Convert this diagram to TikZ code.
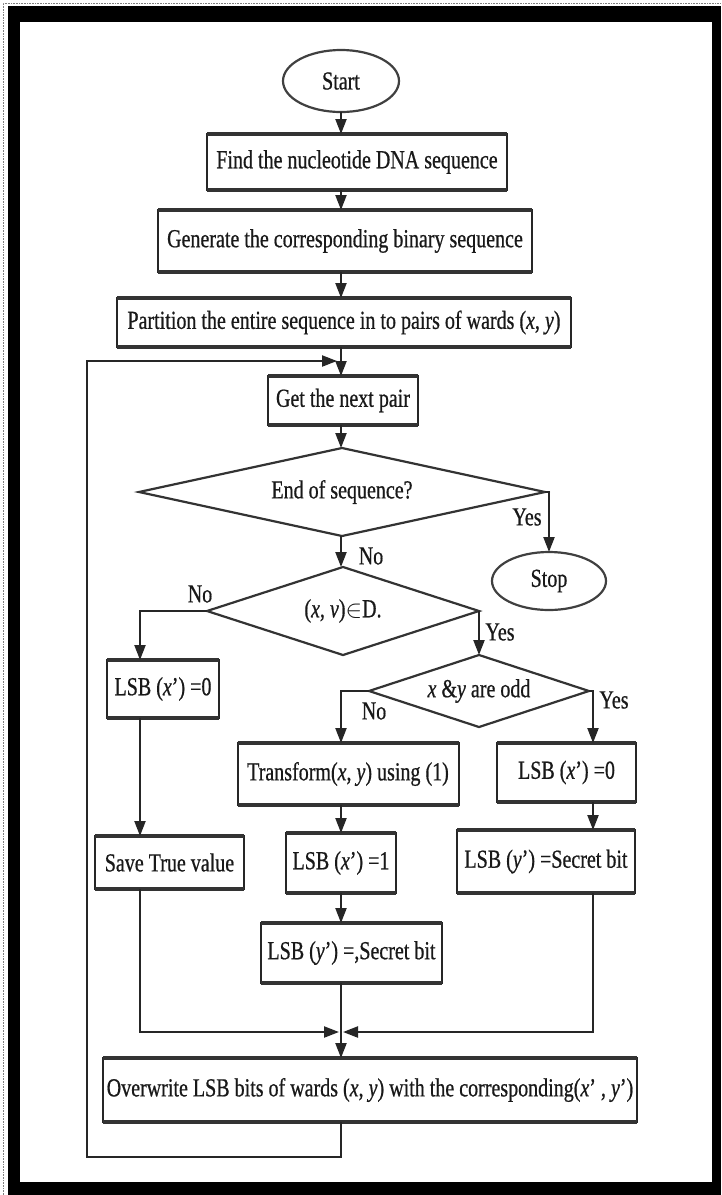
\documentclass[tikz,border=0pt]{standalone}
\usepackage{fontspec}
\setmainfont[FakeStretch=0.77,FakeBold=0.6]{Liberation Serif}
\usetikzlibrary{shapes.geometric,arrows.meta}
\begin{document}
\begin{tikzpicture}[x=1pt,y=-1pt,
  txt/.style={font=\fontsize{26}{28}\selectfont, text=black!90},
  box/.style={txt, rectangle, draw=black!85, line width=2pt, fill=white, inner sep=0pt, outer sep=0pt},
  term/.style={txt, ellipse, draw=black!75, line width=2.2pt, fill=white, inner sep=0pt, outer sep=0pt},
  dec/.style={txt, diamond, aspect=3, draw=black!80, line width=2.2pt, fill=white, inner sep=0pt, outer sep=0pt},
  lbl/.style={txt, inner sep=0pt},
  arr/.style={draw=black!85, line width=2.2pt, -{Triangle[length=15pt,width=11pt]}},
  edgeline/.style={line width=3.4pt, draw=black!80}
]
\useasboundingbox (0,0) rectangle (721,1195);
% frame
\fill[white] (0,0) rectangle (721,1195);
\fill[black] (8,6) rectangle (721,1195);
\fill[white] (20,22) rectangle (712,1182);
\draw[gray, densely dotted, line width=0.6pt] (3,1195) -- (3,3) -- (721,3);

% helper coordinates
\coordinate (axis) at (341,0);
\coordinate (xL) at (140,0);
\coordinate (xR) at (593,0);

% nodes
\node[term, minimum width=116pt, minimum height=62pt] (start) at (341,81) {Start};
\node[box, minimum width=300pt, minimum height=56pt] (find) at (357,162) {Find the nucleotide DNA sequence};
\node[box, minimum width=374pt, minimum height=62pt] (gen) at (345,241) {Generate the corresponding binary sequence};
\node[box, minimum width=454pt, minimum height=49pt] (part) at (344,322.5) {Partition the entire sequence in to pairs of wards (\textit{x}, \textit{y})};
\node[box, minimum width=150pt, minimum height=49pt] (get) at (343,400.5) {Get the next pair};
\node[dec, minimum width=406pt, minimum height=88pt] (end) at (342,492) {End of sequence?};
\node[term, minimum width=114pt, minimum height=58pt] (stop) at (549,581) {Stop};
\node[dec, minimum width=272pt, minimum height=88pt] (dd) at (343,611) {(\textit{x}, \textit{v})$\in$D.};
\node[dec, minimum width=220pt, minimum height=72pt] (xy) at (479,691) {\textit{x} \&\textit{y} are odd};
\node[box, minimum width=112pt, minimum height=58pt] (lsbl) at (163,689) {LSB (\textit{x}') =0};
\node[box, minimum width=221pt, minimum height=62pt] (trans) at (348,774) {Transform(\textit{x}, \textit{y}) using (1)};
\node[box, minimum width=139pt, minimum height=59pt] (lsbr) at (566.5,772.5) {LSB (\textit{x}') =0};
\node[box, minimum width=149pt, minimum height=53pt] (save) at (169.5,862.5) {Save True value};
\node[box, minimum width=110pt, minimum height=60pt] (lsb1) at (341,863) {LSB (\textit{x}') =1};
\node[box, minimum width=181pt, minimum height=60pt] (lsbym) at (351.5,953) {LSB (\textit{y}') =,Secret bit};
\node[box, minimum width=178pt, minimum height=63pt] (lsbyr) at (546,861.5) {LSB (\textit{y}') =Secret bit};
\node[box, minimum width=534pt, minimum height=64pt] (over) at (370,1090) {Overwrite LSB bits of wards (\textit{x}, \textit{y}) with the corresponding(\textit{x}' , \textit{y}')};

% thicker top and bottom edges of the boxes
\foreach \n in {find,gen,part,get,lsbl,trans,lsbr,save,lsb1,lsbym,lsbyr,over}
  \draw[edgeline] (\n.north west) -- (\n.north east) (\n.south west) -- (\n.south east);

% labels
\node[lbl] (yes1) at (527,517) {Yes};
\node[lbl] (no1) at (371,556) {No};
\node[lbl] (no2) at (200,594) {No};
\node[lbl] (yes2) at (500,632) {Yes};
\node[lbl] (no3) at (374,711) {No};
\node[lbl] (yes3) at (614,700) {Yes};

% merge and loop coordinates
\coordinate (mL) at (339,1032);
\coordinate (mR) at (343,1032);
\coordinate (lb) at (87,1157);
\coordinate (loopin) at (337,361);

% connectors
\draw[arr] (start.south) -- (axis |- find.north);
\draw[arr] (axis |- find.south) -- (axis |- gen.north);
\draw[arr] (axis |- gen.south) -- (axis |- part.north);
\draw[arr] (axis |- part.south) -- (axis |- get.north);
\draw[arr] (axis |- get.south) -- (axis |- end.north);
\draw[arr] (end.east) -| (stop.north);
\draw[arr] (axis |- end.south) -- (axis |- dd.north);
\draw[arr] (dd.west) -| (xL |- lsbl.north);
\draw[arr] (dd.east) -- (xy.north);
\draw[arr] (xy.west) -| (axis |- trans.north);
\draw[arr] (xy.east) -| (xR |- lsbr.north);
\draw[arr] (xL |- lsbl.south) -- (xL |- save.north);
\draw[arr] (axis |- trans.south) -- (axis |- lsb1.north);
\draw[arr] (axis |- lsb1.south) -- (axis |- lsbym.north);
\draw[arr] (xR |- lsbr.south) -- (xR |- lsbyr.north);
\draw[arr] (xL |- save.south) |- (mL);
\draw[arr] (xR |- lsbyr.south) |- (mR);
\draw[arr] (axis |- lsbym.south) -- (axis |- over.north);
\draw[arr] (axis |- over.south) |- (lb) |- (loopin);
\end{tikzpicture}
\end{document}
